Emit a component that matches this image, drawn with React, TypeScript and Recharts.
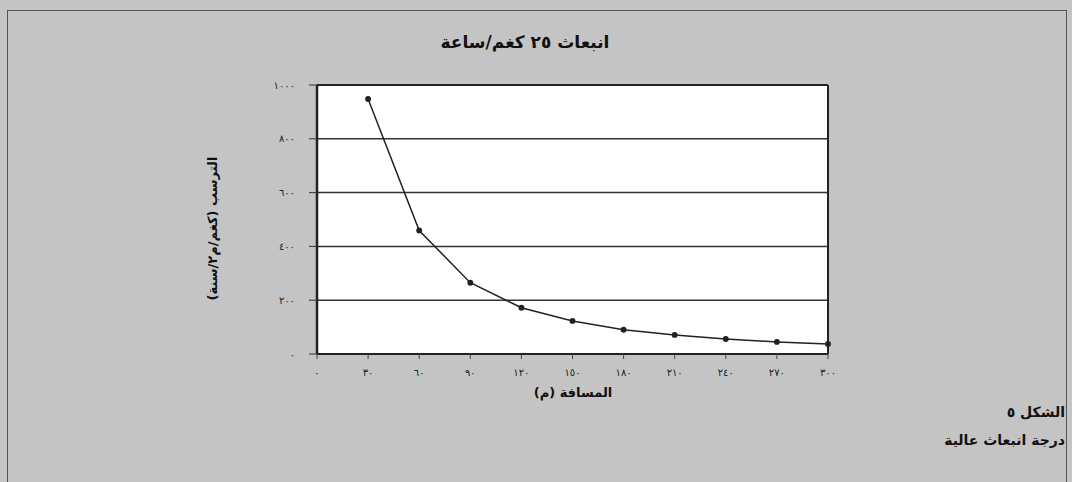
import React from "react";
import { LineChart, Line, XAxis, YAxis, CartesianGrid, ReferenceLine } from "recharts";

const distances = [30, 60, 90, 120, 150, 180, 210, 240, 270, 300];
const deposition = [948, 459, 265, 172, 123, 90, 71, 56, 45, 37];
const xTicks = [0, 30, 60, 90, 120, 150, 180, 210, 240, 270, 300];
const yTicks = [0, 200, 400, 600, 800, 1000];

const titleText = "انبعاث ٢٥ كغم/ساعة";
const xLabel = "المسافة (م)";
const yLabel = "الترسب (كغم/م٢/سنة)";
const figLabel = "الشكل ٥";
const figCaption = "درجة انبعاث عالية";

const data = distances.map((d, i) => ({ x: d, y: deposition[i] }));

const toArabic = (n: number) =>
  String(n).replace(/[0-9]/g, (c) => "٠١٢٣٤٥٦٧٨٩"[Number(c)]);

const FONT = "'DejaVu Sans', sans-serif";

export default function App() {
  return (
    <div
      style={{
        position: "absolute",
        left: 0,
        top: 0,
        width: 1072,
        height: 482,
        background: "#c4c4c4",
        fontFamily: FONT,
        overflow: "hidden",
      }}
    >
      <div
        style={{
          position: "absolute",
          left: 7,
          top: 10,
          width: 1058,
          height: 480,
          borderLeft: "1.5px solid #555",
          borderTop: "1.5px solid #555",
          borderRight: "1.5px solid #555",
        }}
      />
      <LineChart
        width={1072}
        height={482}
        data={data}
        margin={{ top: 85, right: 244, bottom: 0, left: 0 }}
        style={{ position: "absolute", left: 0, top: 0 }}
      >
        <CartesianGrid
          horizontal={true}
          vertical={false}
          stroke="#333"
          strokeWidth={1.5}
          fill="#ffffff"
          fillOpacity={1}
        />
        <XAxis
          dataKey="x"
          type="number"
          domain={[0, 300]}
          ticks={xTicks}
          interval={0}
          height={128}
          tickFormatter={toArabic}
          tick={{ fill: "#222", fontSize: 10, fontFamily: FONT }}
          axisLine={{ stroke: "#222", strokeWidth: 2 }}
          tickLine={{ stroke: "#444" }}
          tickSize={5}
          tickMargin={10}
        />
        <YAxis
          type="number"
          domain={[0, 1000]}
          ticks={yTicks}
          interval={0}
          width={317}
          tickFormatter={toArabic}
          tick={{ fill: "#222", fontSize: 10, fontFamily: FONT }}
          axisLine={{ stroke: "#222", strokeWidth: 2.5 }}
          tickLine={{ stroke: "#333" }}
          tickSize={8}
          tickMargin={14}
        />
        <ReferenceLine x={300} stroke="#222" strokeWidth={2} />
        <ReferenceLine y={1000} stroke="#222" strokeWidth={2} />
        <Line
          dataKey="y"
          type="linear"
          stroke="#222"
          strokeWidth={1.5}
          dot={{ r: 2.2, fill: "#222", stroke: "#222" }}
          activeDot={false}
          isAnimationActive={false}
        />
      </LineChart>
      <div
        style={{
          position: "absolute",
          left: 325,
          width: 400,
          top: 32,
          textAlign: "center",
          fontWeight: "bold",
          fontSize: 17,
          direction: "rtl",
          color: "#111",
        }}
      >
        {titleText}
      </div>
      <div
        style={{
          position: "absolute",
          left: 473,
          width: 200,
          top: 385,
          textAlign: "center",
          fontWeight: "bold",
          fontSize: 13,
          direction: "rtl",
          color: "#111",
        }}
      >
        {xLabel}
      </div>
      <div
        style={{
          position: "absolute",
          left: 112,
          width: 200,
          top: 221,
          textAlign: "center",
          fontWeight: "bold",
          fontSize: 13,
          direction: "rtl",
          color: "#111",
          transform: "rotate(-90deg)",
        }}
      >
        {yLabel}
      </div>
      <div
        style={{
          position: "absolute",
          right: 7,
          top: 398,
          textAlign: "right",
          fontWeight: "bold",
          fontSize: 14,
          direction: "rtl",
          color: "#111",
          lineHeight: "28px",
        }}
      >
        <div>{figLabel}</div>
        <div>{figCaption}</div>
      </div>
    </div>
  );
}
